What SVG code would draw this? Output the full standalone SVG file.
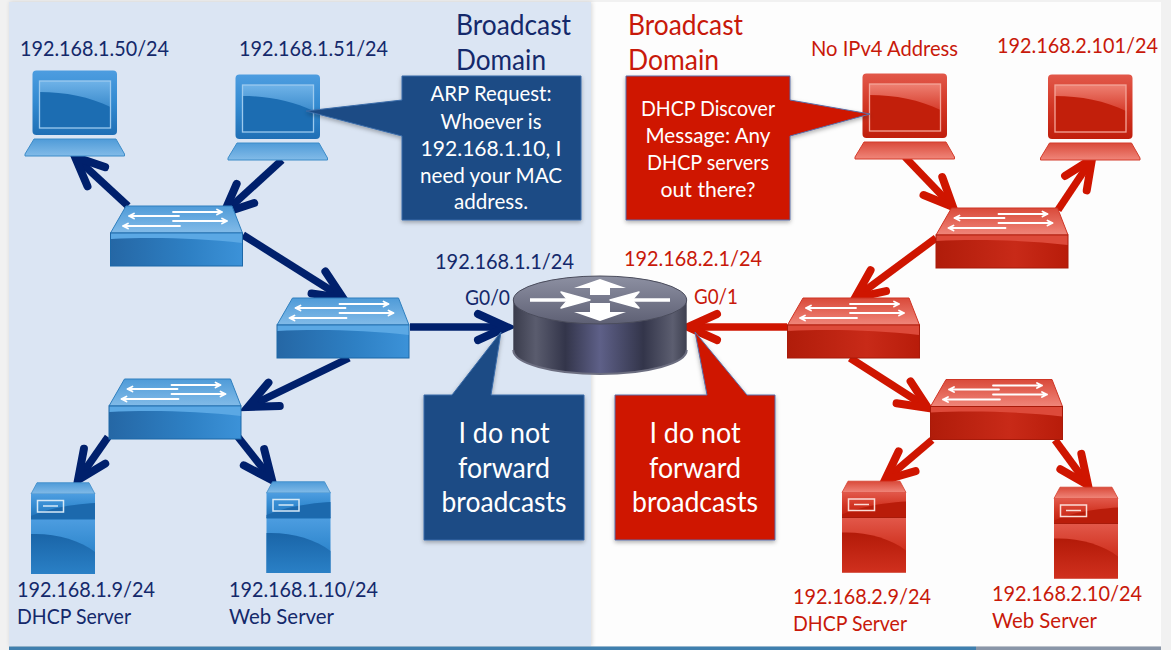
<svg xmlns="http://www.w3.org/2000/svg" width="1171" height="650" viewBox="0 0 1171 650">
<style>
text{font-family:"Lato","Liberation Sans",sans-serif;font-size:21px}
.b{fill:#14296b}.r{fill:#c8190a}.w{fill:#fff}
.t{font-size:28px}.big{font-size:29px}
.m{text-anchor:middle}
.ab{fill:none;stroke:#00206c;stroke-width:7.500;marker-end:url(#hb)}
.ar{fill:none;stroke:#cf1500;stroke-width:7.500;marker-end:url(#hr)}
.wa{fill:none;stroke:#fff;stroke-width:1.800;stroke-linecap:round;stroke-linejoin:round}
.wr{fill:none;stroke:#fff;stroke-width:3.500;stroke-linejoin:round}
.sh{filter:url(#ds)}
</style>
<defs>
<filter id="ds" x="-10%" y="-10%" width="120%" height="125%"><feDropShadow dx="0" dy="2" stdDeviation="2" flood-color="#000" flood-opacity=".3"/></filter>
<filter id="ps" x="-5%" y="-5%" width="110%" height="110%"><feDropShadow dx="1" dy="0" stdDeviation="2" flood-color="#000" flood-opacity=".15"/></filter>
<marker id="hb" markerUnits="userSpaceOnUse" markerWidth="48" markerHeight="48" refX="38" refY="24" orient="auto" viewBox="0 0 48 48"><path d="M9 11L38 24L9 37" fill="none" stroke="#00206c" stroke-width="8" stroke-linecap="round"/></marker>
<marker id="hr" markerUnits="userSpaceOnUse" markerWidth="48" markerHeight="48" refX="38" refY="24" orient="auto" viewBox="0 0 48 48"><path d="M9 11L38 24L9 37" fill="none" stroke="#cf1500" stroke-width="8" stroke-linecap="round"/></marker>
<linearGradient id="bgl" x1="0" y1="0" x2="0" y2="1"><stop offset="0" stop-color="#6fb3e8"/><stop offset="1" stop-color="#3c8ccd"/></linearGradient>
<linearGradient id="rgl" x1="0" y1="0" x2="0" y2="1"><stop offset="0" stop-color="#ee8072"/><stop offset="1" stop-color="#d63c2b"/></linearGradient>
<linearGradient id="bfr" x1="0" y1="0" x2="0" y2="1"><stop offset="0" stop-color="#4d9de0"/><stop offset=".5" stop-color="#338ad0"/><stop offset="1" stop-color="#1f6fb5"/></linearGradient>
<linearGradient id="rfr" x1="0" y1="0" x2="0" y2="1"><stop offset="0" stop-color="#e2584a"/><stop offset=".5" stop-color="#d23624"/><stop offset="1" stop-color="#c01e0c"/></linearGradient>
<linearGradient id="bdk" x1="0" y1="0" x2="0" y2="1"><stop offset="0" stop-color="#1a65a8"/><stop offset="1" stop-color="#2a80c6"/></linearGradient>
<linearGradient id="rdk" x1="0" y1="0" x2="0" y2="1"><stop offset="0" stop-color="#b31a08"/><stop offset="1" stop-color="#d0301e"/></linearGradient>
<linearGradient id="bsd" x1="0" y1="0" x2="1" y2="0"><stop offset="0" stop-color="#2567a5"/><stop offset=".6" stop-color="#2e80c4"/><stop offset="1" stop-color="#3c92d8"/></linearGradient>
<linearGradient id="rsd" x1="0" y1="0" x2="1" y2="0"><stop offset="0" stop-color="#b01c0a"/><stop offset=".6" stop-color="#c82a18"/><stop offset="1" stop-color="#b81c0a"/></linearGradient>
<linearGradient id="bt" x1="0" y1="0" x2="0" y2="1"><stop offset="0" stop-color="#4f9bd8"/><stop offset="1" stop-color="#82bbe8"/></linearGradient>
<linearGradient id="rt" x1="0" y1="0" x2="0" y2="1"><stop offset="0" stop-color="#d94a3a"/><stop offset="1" stop-color="#f0867a"/></linearGradient>
<linearGradient id="rg" x1="0" y1="0" x2="1" y2="0"><stop offset="0" stop-color="#3a3c4c"/><stop offset=".13" stop-color="#5a5c6e"/><stop offset=".3" stop-color="#33354a"/><stop offset=".5" stop-color="#5e6088"/><stop offset=".75" stop-color="#33354a"/><stop offset=".92" stop-color="#5c5e70"/><stop offset="1" stop-color="#3e4050"/></linearGradient>
<linearGradient id="rtop" x1="0" y1="0" x2="0" y2="1"><stop offset="0" stop-color="#8d90a2"/><stop offset="1" stop-color="#5e6074"/></linearGradient>

<g id="lap-b">
<rect x="32.500" y="70.500" width="84.500" height="64.500" rx="4" fill="url(#bfr)"/>
<rect x="39.500" y="81" width="71" height="47" fill="#1c6db2"/>
<path d="M39.500 81H110.500V107C90 97 65 92 39.500 92Z" fill="url(#bgl)"/>
<rect x="39.500" y="81" width="71" height="47" fill="none" stroke="#9ccaee" stroke-width="1.300"/>
<path d="M34 139H116L124.500 154V156H25V154Z" fill="url(#bt)" stroke="#3d8cc8" stroke-width="1"/>
</g>
<g id="lap-r">
<rect x="32.500" y="70.500" width="84.500" height="64.500" rx="4" fill="url(#rfr)"/>
<rect x="39.500" y="81" width="71" height="47" fill="#c21f0b"/>
<path d="M39.500 81H110.500V107C90 97 65 92 39.500 92Z" fill="url(#rgl)"/>
<rect x="39.500" y="81" width="71" height="47" fill="none" stroke="#f4a599" stroke-width="1.300"/>
<path d="M34 139H116L124.500 154V156H25V154Z" fill="url(#rt)" stroke="#d43c2c" stroke-width="1"/>
</g>
<g id="sw-b">
<path d="M126 206H232L242.500 233H110.500Z" fill="url(#bt)" stroke="#2f7fbe" stroke-width="1"/>
<rect x="110.500" y="233" width="132" height="33" fill="url(#bsd)" stroke="#1d68a8" stroke-width="1"/>
<path d="M111 233.500H242V243C200 238 150 237 111 239Z" fill="#5ba8e4"/>
<path class="wa" d="M173 212H222M217 209.500L222 212L217 214.500M173 221H227M222 218.500L227 221L222 223.500M179 216H129M134 213.500L129 216L134 218.500M180 226H123M128 223.500L123 226L128 228.500"/>
</g>
<g id="sw-r">
<path d="M126 206H232L242.500 233H110.500Z" fill="url(#rt)" stroke="#cf3424" stroke-width="1"/>
<rect x="110.500" y="233" width="132" height="33" fill="url(#rsd)" stroke="#a81a0a" stroke-width="1"/>
<path d="M111 233.500H242V243C200 238 150 237 111 239Z" fill="#dd4a3a"/>
<path class="wa" d="M173 212H222M217 209.500L222 212L217 214.500M173 221H227M222 218.500L227 221L222 223.500M179 216H129M134 213.500L129 216L134 218.500M180 226H123M128 223.500L123 226L128 228.500"/>
</g>
<g id="srv-b">
<path d="M37 482.700H89L95 494H31Z" fill="url(#bt)" stroke="#3d8cc8" stroke-width=".8"/>
<rect x="31" y="494" width="64" height="25" fill="url(#bfr)"/>
<path d="M31 516C55 506 80 504 95 503V519H31Z" fill="#1c69ad"/>
<rect x="31" y="519" width="64" height="55" fill="url(#bfr)"/>
<path d="M31 534C55 533 80 540 95 552V574H31Z" fill="url(#bdk)"/>
<path d="M31 519H95" stroke="#1a6cb0" stroke-width="1"/>
<rect x="37.500" y="500.500" width="26" height="11.500" fill="none" stroke="#d6e9f7" stroke-width="1.500"/>
<path d="M43 506H58" stroke="#d6e9f7" stroke-width="1.500"/>
</g>
<g id="srv-r">
<path d="M37 482.700H89L95 494H31Z" fill="url(#rt)" stroke="#d43c2c" stroke-width=".8"/>
<rect x="31" y="494" width="64" height="25" fill="url(#rfr)"/>
<path d="M31 516C55 506 80 504 95 503V519H31Z" fill="#b91c0a"/>
<rect x="31" y="519" width="64" height="55" fill="url(#rfr)"/>
<path d="M31 534C55 533 80 540 95 552V574H31Z" fill="url(#rdk)"/>
<path d="M31 519H95" stroke="#a81a0a" stroke-width="1"/>
<rect x="37.500" y="500.500" width="26" height="11.500" fill="none" stroke="#fbdcd6" stroke-width="1.500"/>
<path d="M43 506H58" stroke="#fbdcd6" stroke-width="1.500"/>
</g>
</defs>

<rect width="1171" height="650" fill="#f1f1f1"/>
<rect x="591" y="2" width="570" height="644" fill="#fdfdfd"/>
<rect x="9" y="2" width="582" height="644" fill="#dbe5f3" filter="url(#ps)"/>
<rect x="9" y="646.500" width="967" height="3.500" fill="#3f7fae"/>
<rect x="976" y="646.500" width="185" height="3.500" fill="#8a96a8"/>

<g id="connectors">
<path class="ab" d="M128 206L75 157"/>
<path class="ab" d="M282 160L224 213"/>
<path class="ab" d="M243 235L343 298"/>
<path class="ab" d="M410 327L507 327"/>
<path class="ab" d="M349 358L248 407"/>
<path class="ab" d="M108 437L78 480"/>
<path class="ab" d="M238 437L272 480"/>
<path class="ar" d="M905 157L953 207"/>
<path class="ar" d="M1058 210L1092 159"/>
<path class="ar" d="M936 238L855 298"/>
<path class="ar" d="M787 327L688 327"/>
<path class="ar" d="M850 358L928 408"/>
<path class="ar" d="M932 440L885 480"/>
<path class="ar" d="M1055 440L1088 485"/>
</g>

<g id="laptop-b1"><use href="#lap-b"/></g>
<g id="laptop-b2"><use href="#lap-b" x="203" y="4"/></g>
<g id="switch-b1"><use href="#sw-b"/></g>
<g id="switch-b2"><use href="#sw-b" x="166.500" y="92"/></g>
<g id="switch-b3"><use href="#sw-b" x="-1.500" y="173"/></g>
<g id="server-b1"><use href="#srv-b"/></g>
<g id="server-b2"><use href="#srv-b" x="235.500" y="-1"/></g>
<g id="laptop-r1"><use href="#lap-r" x="830" y="3"/></g>
<g id="laptop-r2"><use href="#lap-r" x="1015.500" y="4"/></g>
<g id="switch-r1"><use href="#sw-r" x="825.500" y="2"/></g>
<g id="switch-r2"><use href="#sw-r" x="677" y="92"/></g>
<g id="switch-r3"><use href="#sw-r" x="820" y="173.500"/></g>
<g id="server-r1"><use href="#srv-r" x="811" y="-1.500"/></g>
<g id="server-r2"><use href="#srv-r" x="1023" y="4.500"/></g>

<g id="router">
<path d="M513.300 300V350A86.700 24 0 0 0 686.700 350V300Z" fill="url(#rg)"/>
<path d="M513.300 350A86.700 24 0 0 0 686.700 350" fill="none" stroke="#6c6e80" stroke-width="2"/>
<ellipse cx="600" cy="300" rx="86.700" ry="24" fill="url(#rtop)" stroke="#4a4c5c" stroke-width="1"/>
<path class="wr" d="M530 300H572M670 300H628"/>
<path d="M590 300L561 292L568 300L561 308ZM610 300L639 292L632 300L639 308Z" fill="#fff" stroke="#fff" stroke-linejoin="round" stroke-width="1.500"/>
<path d="M600 279L574 288H590V295H610V288H626Z" fill="#fff"/>
<path d="M600 321L574 312H590V303H610V312H626Z" fill="#fff"/>
</g>

<g id="callout-arp">
<path class="sh" d="M402 76H581V220H402V136L306 111L402 100Z" fill="#1c4b85" stroke="#3a6ba8" stroke-width="1"/>
<text class="w m" x="491" y="101" textLength="121" lengthAdjust="spacingAndGlyphs">ARP Request:</text>
<text class="w m" x="491" y="129" textLength="101" lengthAdjust="spacingAndGlyphs">Whoever is</text>
<text class="w m" x="491" y="156" textLength="141" lengthAdjust="spacingAndGlyphs">192.168.1.10, I</text>
<text class="w m" x="491" y="183" textLength="142" lengthAdjust="spacingAndGlyphs">need your MAC</text>
<text class="w m" x="491" y="209" textLength="74" lengthAdjust="spacingAndGlyphs">address.</text>
</g>
<g id="callout-dhcp">
<path class="sh" d="M626 76H790V100L870 114L790 136V220H626Z" fill="#cf1500" stroke="#5a6ea8" stroke-width="1"/>
<text class="w m" x="708" y="116" textLength="134" lengthAdjust="spacingAndGlyphs">DHCP Discover</text>
<text class="w m" x="708" y="143" textLength="125" lengthAdjust="spacingAndGlyphs">Message: Any</text>
<text class="w m" x="708" y="170" textLength="122" lengthAdjust="spacingAndGlyphs">DHCP servers</text>
<text class="w m" x="708" y="197" textLength="95" lengthAdjust="spacingAndGlyphs">out there?</text>
</g>
<g id="callout-nofwd-b">
<path class="sh" d="M424 395H452L501 332L491 395H584V540H424Z" fill="#1c4b85" stroke="#3a6ba8" stroke-width="1"/>
<text class="w m big" x="504" y="443" textLength="91" lengthAdjust="spacingAndGlyphs">I do not</text>
<text class="w m big" x="504" y="478" textLength="92" lengthAdjust="spacingAndGlyphs">forward</text>
<text class="w m big" x="504" y="512" textLength="125" lengthAdjust="spacingAndGlyphs">broadcasts</text>
</g>
<g id="callout-nofwd-r">
<path class="sh" d="M615 395H707L695 332L747 395H775V540H615Z" fill="#cf1500" stroke="#5a6ea8" stroke-width="1"/>
<text class="w m big" x="695" y="443" textLength="91" lengthAdjust="spacingAndGlyphs">I do not</text>
<text class="w m big" x="695" y="478" textLength="92" lengthAdjust="spacingAndGlyphs">forward</text>
<text class="w m big" x="695" y="512" textLength="126" lengthAdjust="spacingAndGlyphs">broadcasts</text>
</g>

<g id="labels">
<text class="b t" x="456" y="35" textLength="115" lengthAdjust="spacingAndGlyphs">Broadcast</text>
<text class="b t" x="456" y="70" textLength="90" lengthAdjust="spacingAndGlyphs">Domain</text>
<text class="r t" x="628" y="35" textLength="115" lengthAdjust="spacingAndGlyphs">Broadcast</text>
<text class="r t" x="628" y="70" textLength="91" lengthAdjust="spacingAndGlyphs">Domain</text>
<text class="b" x="20" y="56" textLength="149" lengthAdjust="spacingAndGlyphs">192.168.1.50/24</text>
<text class="b" x="239" y="56" textLength="149" lengthAdjust="spacingAndGlyphs">192.168.1.51/24</text>
<text class="r" x="811" y="56" textLength="147" lengthAdjust="spacingAndGlyphs">No IPv4 Address</text>
<text class="r" x="997" y="53" textLength="161" lengthAdjust="spacingAndGlyphs">192.168.2.101/24</text>
<text class="b" x="435" y="269" textLength="139" lengthAdjust="spacingAndGlyphs">192.168.1.1/24</text>
<text class="r" x="624" y="266" textLength="138" lengthAdjust="spacingAndGlyphs">192.168.2.1/24</text>
<text class="b" x="465" y="305" textLength="45" lengthAdjust="spacingAndGlyphs">G0/0</text>
<text class="r" x="694" y="304" textLength="44" lengthAdjust="spacingAndGlyphs">G0/1</text>
<text class="b" x="17" y="597" textLength="138" lengthAdjust="spacingAndGlyphs">192.168.1.9/24</text>
<text class="b" x="17" y="624" textLength="114" lengthAdjust="spacingAndGlyphs">DHCP Server</text>
<text class="b" x="229" y="597" textLength="149" lengthAdjust="spacingAndGlyphs">192.168.1.10/24</text>
<text class="b" x="229" y="624" textLength="105" lengthAdjust="spacingAndGlyphs">Web Server</text>
<text class="r" x="793" y="604" textLength="138" lengthAdjust="spacingAndGlyphs">192.168.2.9/24</text>
<text class="r" x="793" y="631" textLength="114" lengthAdjust="spacingAndGlyphs">DHCP Server</text>
<text class="r" x="992" y="601" textLength="150" lengthAdjust="spacingAndGlyphs">192.168.2.10/24</text>
<text class="r" x="992" y="628" textLength="105" lengthAdjust="spacingAndGlyphs">Web Server</text>
</g>
</svg>
